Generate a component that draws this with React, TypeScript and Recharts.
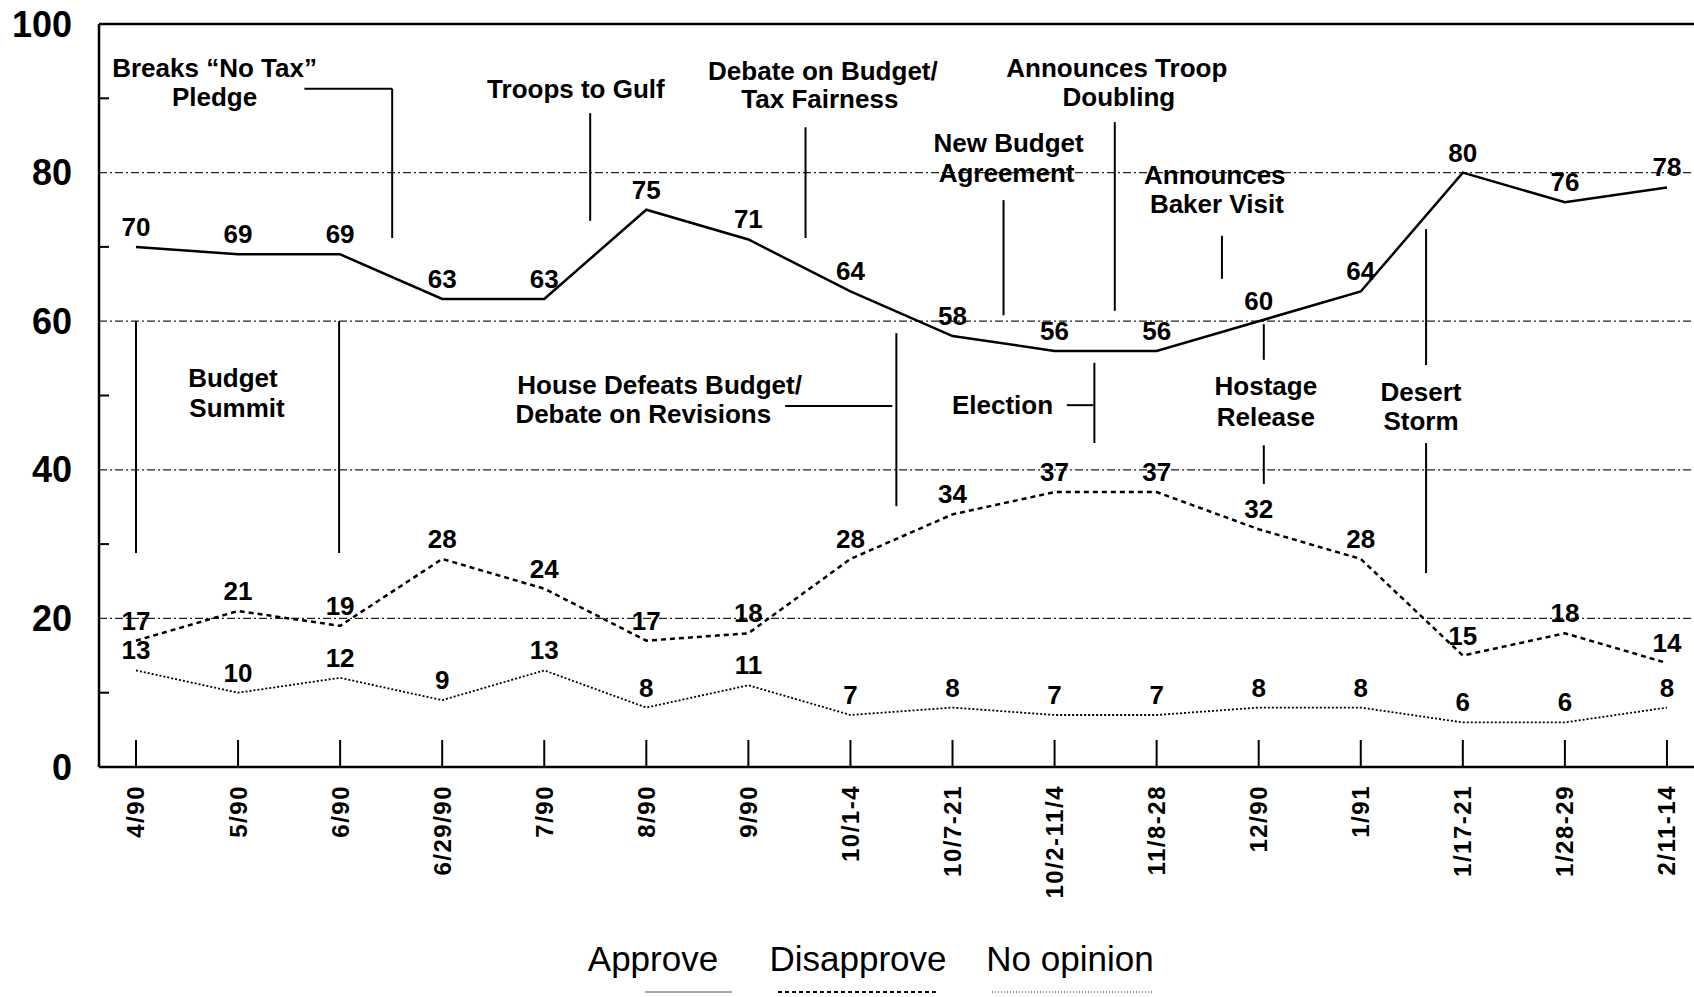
import React from 'react';
import {
  ComposedChart,
  Line,
  XAxis,
  YAxis,
  ReferenceLine,
  ReferenceDot,
  LabelList,
  Legend,
} from 'recharts';

const FONT = '"Liberation Sans", Arial, Helvetica, sans-serif';

// ---- data ----
const categories = [
  '4/90', '5/90', '6/90', '6/29/90', '7/90', '8/90', '9/90', '10/1-4',
  '10/7-21', '10/2-11/4', '11/8-28', '12/90', '1/91', '1/17-21', '1/28-29', '2/11-14',
];
const approve = [70, 69, 69, 63, 63, 75, 71, 64, 58, 56, 56, 60, 64, 80, 76, 78];
const disapprove = [17, 21, 19, 28, 24, 17, 18, 28, 34, 37, 37, 32, 28, 15, 18, 14];
const noOpinion = [13, 10, 12, 9, 13, 8, 11, 7, 8, 7, 7, 8, 8, 6, 6, 8];
const yTicks = [0, 10, 20, 30, 40, 50, 60, 70, 80, 90, 100];
const gridValues = [20, 40, 60, 80];
const seriesNames = ['Approve', 'Disapprove', 'No opinion'];

// event annotations, in data units (x = category index, y = percent)
const annotationTexts = [
  { x: 0.77, y: 94.1, text: 'Breaks \u201CNo Tax\u201D' },
  { x: 0.77, y: 90.2, text: 'Pledge' },
  { x: 4.31, y: 91.3, text: 'Troops to Gulf' },
  { x: 6.73, y: 93.7, text: 'Debate on Budget/' },
  { x: 6.70, y: 90.0, text: 'Tax Fairness' },
  { x: 9.61, y: 94.1, text: 'Announces Troop' },
  { x: 9.63, y: 90.2, text: 'Doubling' },
  { x: 8.55, y: 84.0, text: 'New Budget' },
  { x: 8.53, y: 80.0, text: 'Agreement' },
  { x: 10.57, y: 79.7, text: 'Announces' },
  { x: 10.59, y: 75.8, text: 'Baker Visit' },
  { x: 0.95, y: 52.4, text: 'Budget' },
  { x: 0.99, y: 48.4, text: 'Summit' },
  { x: 5.13, y: 51.5, text: 'House Defeats Budget/' },
  { x: 4.97, y: 47.6, text: 'Debate on Revisions' },
  { x: 8.49, y: 48.7, text: 'Election' },
  { x: 11.07, y: 51.3, text: 'Hostage' },
  { x: 11.07, y: 47.2, text: 'Release' },
  { x: 12.59, y: 50.5, text: 'Desert' },
  { x: 12.59, y: 46.6, text: 'Storm' },
];

const annotationLines: [number, number, number, number][] = [
  [1.65, 91.3, 2.51, 91.3],
  [2.51, 91.3, 2.51, 71.2],
  [4.45, 88.0, 4.45, 73.5],
  [6.56, 86.1, 6.56, 71.2],
  [9.59, 86.8, 9.59, 61.4],
  [8.5, 76.3, 8.5, 60.8],
  [10.64, 71.5, 10.64, 65.7],
  [0, 60, 0, 28.8],
  [1.99, 60, 1.99, 28.8],
  [6.36, 48.6, 7.41, 48.6],
  [7.45, 58.4, 7.45, 35.1],
  [9.12, 48.7, 9.38, 48.7],
  [9.39, 54.4, 9.39, 43.6],
  [11.05, 59.6, 11.05, 54.8],
  [11.05, 43.3, 11.05, 38.1],
  [12.64, 72.4, 12.64, 54.1],
  [12.64, 43.6, 12.64, 26.1],
];

const data = categories.map((c, i) => ({
  i,
  label: c,
  approve: approve[i],
  disapprove: disapprove[i],
  noOpinion: noOpinion[i],
}));

const XTick = (props: any) => {
  const { x, y, payload } = props;
  const label = categories[payload.value] ?? '';
  const ly = y + 18;
  return (
    <g>
      <line x1={x} x2={x} y1={y} y2={y - 27} stroke="#000" strokeWidth={2} />
      <text
        x={x}
        y={ly}
        transform={`rotate(-90, ${x}, ${ly})`}
        textAnchor="end"
        dominantBaseline="central"
        fontFamily={FONT}
        fontWeight="bold"
        fontSize={24}
        letterSpacing={1.5}
        fill="#000"
      >
        {label}
      </text>
    </g>
  );
};

const YTick = (props: any) => {
  const { x, y, payload } = props;
  const v = payload.value;
  if (v % 20 === 0) {
    return (
      <text
        x={x - 27}
        y={y}
        textAnchor="end"
        dominantBaseline="central"
        fontFamily={FONT}
        fontWeight="bold"
        fontSize={36}
        fill="#000"
      >
        {v}
      </text>
    );
  }
  return <line x1={x} x2={x + 10} y1={y} y2={y} stroke="#000" strokeWidth={2} />;
};

const LegendBox = () => {
  const items = [
    { name: seriesNames[0], cx: 653, line: { x1: 645, x2: 732, stroke: '#aaa', dash: undefined, w: 2 } },
    { name: seriesNames[1], cx: 858, line: { x1: 778, x2: 936, stroke: '#000', dash: '4 3', w: 2 } },
    { name: seriesNames[2], cx: 1070, line: { x1: 992, x2: 1152, stroke: '#666', dash: '1 2', w: 1.5 } },
  ];
  return (
    <div style={{ position: 'relative', width: 1694, height: 67 }}>
      {items.map((it) => (
        <div
          key={it.name}
          style={{
            position: 'absolute',
            left: it.cx - 150,
            width: 300,
            top: 9,
            lineHeight: '40px',
            textAlign: 'center',
            fontFamily: FONT,
            fontSize: 35,
            color: '#000',
          }}
        >
          {it.name}
        </div>
      ))}
      <svg width={1694} height={67} style={{ position: 'absolute', left: 0, top: 0 }}>
        {items.map((it) => (
          <line
            key={it.name}
            x1={it.line.x1}
            x2={it.line.x2}
            y1={62}
            y2={62}
            stroke={it.line.stroke}
            strokeWidth={it.line.w}
            strokeDasharray={it.line.dash}
          />
        ))}
      </svg>
    </div>
  );
};

const labelStyle = {
  fill: '#000',
  fontSize: 26,
  fontWeight: 'bold',
  fontFamily: FONT,
};

export default function App() {
  return (
    <div style={{ position: 'absolute', left: 0, top: 0, width: 1694, height: 997, background: '#fff' }}>
      <ComposedChart
        width={1694}
        height={997}
        data={data}
        margin={{ top: 24, right: 0, left: 0, bottom: 0 }}
      >
        <XAxis
          type="number"
          dataKey="i"
          domain={[-0.3625, 15.265]}
          allowDataOverflow
          ticks={categories.map((_, i) => i)}
          interval={0}
          tickSize={0}
          tickMargin={0}
          tickLine={false}
          tick={<XTick />}
          axisLine={{ stroke: '#000', strokeWidth: 2.5 }}
          height={163}
        />
        <YAxis
          type="number"
          domain={[0, 100]}
          ticks={yTicks}
          interval={0}
          tickSize={0}
          tickMargin={0}
          tickLine={false}
          tick={<YTick />}
          axisLine={{ stroke: '#000', strokeWidth: 2.5 }}
          width={99}
        />
        <Legend
          verticalAlign="bottom"
          align="left"
          wrapperStyle={{ left: 0, width: 1694 }}
          content={() => <LegendBox />}
        />
        {gridValues.map((v) => (
          <ReferenceLine
            key={`g${v}`}
            y={v}
            stroke="#222"
            strokeWidth={1.2}
            strokeDasharray="8 3 2 3"
          />
        ))}
        <ReferenceLine y={100} stroke="#000" strokeWidth={2.5} ifOverflow="visible" />
        {annotationLines.map((s, k) => (
          <ReferenceLine
            key={`a${k}`}
            segment={[
              { x: s[0], y: s[1] },
              { x: s[2], y: s[3] },
            ]}
            stroke="#000"
            strokeWidth={2}
            ifOverflow="visible"
          />
        ))}
        {annotationTexts.map((a, k) => (
          <ReferenceDot
            key={`t${k}`}
            x={a.x}
            y={a.y}
            r={0}
            fill="none"
            stroke="none"
            ifOverflow="visible"
            label={{ value: a.text, position: 'center', ...labelStyle }}
          />
        ))}
        <Line
          type="linear"
          dataKey="approve"
          name={seriesNames[0]}
          stroke="#000"
          strokeWidth={2.5}
          dot={false}
          isAnimationActive={false}
        >
          <LabelList dataKey="approve" position="top" offset={11} {...labelStyle} />
        </Line>
        <Line
          type="linear"
          dataKey="disapprove"
          name={seriesNames[1]}
          stroke="#000"
          strokeWidth={2.5}
          strokeDasharray="5 4"
          dot={false}
          isAnimationActive={false}
        >
          <LabelList dataKey="disapprove" position="top" offset={11} {...labelStyle} />
        </Line>
        <Line
          type="linear"
          dataKey="noOpinion"
          name={seriesNames[2]}
          stroke="#000"
          strokeWidth={1.8}
          strokeDasharray="2 2"
          dot={false}
          isAnimationActive={false}
        >
          <LabelList dataKey="noOpinion" position="top" offset={11} {...labelStyle} />
        </Line>
      </ComposedChart>
    </div>
  );
}
